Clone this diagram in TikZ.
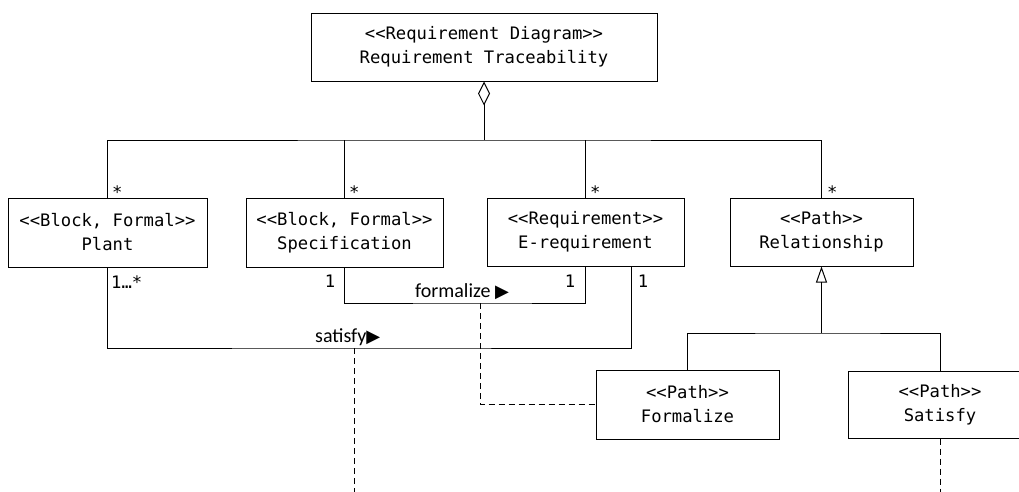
\documentclass[tikz,border=0pt]{standalone}
\usepackage{fontspec}
\usetikzlibrary{arrows.meta,calc}
\newfontfamily\boxfont{DejaVu Sans Mono}
\newfontfamily\lblfont{Carlito}
\newfontfamily\symfont{DejaVu Sans}
\begin{document}
\begin{tikzpicture}[x=1pt,y=-1pt,
  blk/.style={draw, line width=1pt, rectangle, align=center,
    font=\boxfont\fontsize{17.2}{24}\selectfont, inner sep=0pt},
  mult/.style={font=\boxfont\fontsize{17.2}{20}\selectfont, inner sep=0pt},
  lbl/.style={font=\lblfont\fontsize{20}{22}\selectfont, inner sep=0pt},
  conn/.style={line width=1pt},
  dep/.style={conn, dash pattern=on 6pt off 4pt},
  aggr/.style={conn, -{Diamond[open,length=24pt,width=12pt]}},
  gen/.style={conn, -{Triangle[open,length=16pt,width=11pt]}}]
\useasboundingbox (0,0) rectangle (1019,491);
\clip (0,0) rectangle (1019,491);

% blocks
\node[blk, minimum width=346pt, minimum height=68pt] (top) at (484,47)
  {<<Requirement Diagram>>\\Requirement Traceability};
\node[blk, minimum width=199pt, minimum height=69pt] (plant) at (107.5,232.5)
  {<<Block, Formal>>\\Plant};
\node[blk, minimum width=197pt, minimum height=69pt] (spec) at (344.5,232.5)
  {<<Block, Formal>>\\Specification};
\node[blk, minimum width=197pt, minimum height=68pt] (ereq) at (585.5,232)
  {<<Requirement>>\\E-requirement};
\node[blk, minimum width=183pt, minimum height=68pt] (rel) at (821.5,232)
  {<<Path>>\\Relationship};
\node[blk, minimum width=183pt, minimum height=69pt] (formalize) at (687.5,404.5)
  {<<Path>>\\Formalize};
\node[blk, minimum width=184pt, minimum height=67pt] (satisfy) at (940,404.5)
  {<<Path>>\\Satisfy};

% helper coordinates
\coordinate (agg) at (484,140);
\coordinate (fy) at (480,303);
\coordinate (sy) at (354,348);
\coordinate (ereqR) at (631,266);
\coordinate (gj) at (821.5,333);
\coordinate (send) at (354,495);
\coordinate (satend) at (940,495);

% aggregation
\draw[conn] (plant.north) |- (agg) -| (rel.north);
\draw[conn] (spec.north) -- (spec.north |- agg);
\draw[conn] (ereq.north) -- (ereq.north |- agg);
\draw[aggr] (agg) -- (top.south);

% formalize association
\draw[conn] (spec.south) |- (fy) -| (ereq.south);
\draw[dep] (fy) |- (formalize.west);

% satisfy association
\draw[conn] (plant.south) |- (sy) -| (ereqR);
\draw[dep] (sy) -- (send);

% generalization
\draw[gen] (gj) -- (rel.south);
\draw[conn] (formalize.north) |- (gj) -| (satisfy.north);
\draw[dep] (satisfy.south) -- (satend);

% multiplicities
\node[mult, anchor=base west] (m1) at (112,198) {*};
\node[mult, anchor=base west] (m2) at (349,198) {*};
\node[mult, anchor=base west] (m3) at (590,198) {*};
\node[mult, anchor=base west] (m4) at (827,198) {*};
\node[mult, anchor=base west] (m5) at (111,288) {1…*};
\node[mult, anchor=base] (m6) at (330,287) {1};
\node[mult, anchor=base] (m7) at (570,287) {1};
\node[mult, anchor=base] (m8) at (643,287) {1};

% association labels
\node[lbl, anchor=base] (lf) at (462,297)
  {formalize {\symfont\fontsize{18}{18}\selectfont ▶}};
\node[lbl, anchor=base west] (ls) at (315,342)
  {satisfy{\symfont\fontsize{18}{18}\selectfont ▶}};
\end{tikzpicture}
\end{document}
